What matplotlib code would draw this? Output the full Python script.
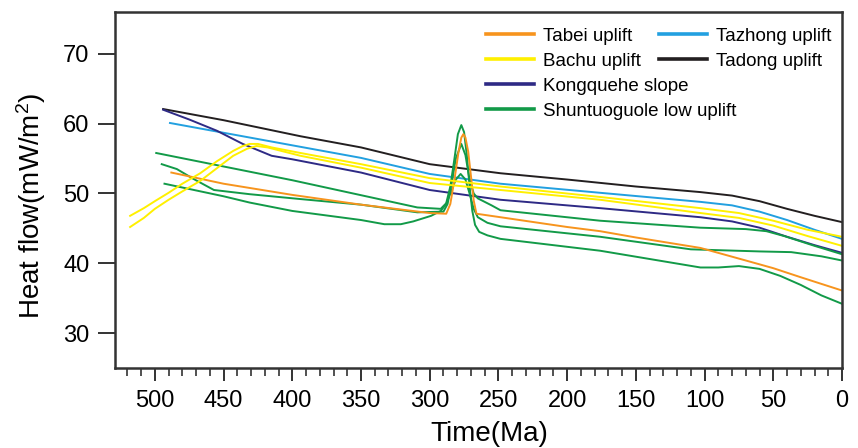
import matplotlib
matplotlib.use("Agg")
import matplotlib.pyplot as plt
from matplotlib.lines import Line2D
from matplotlib.ticker import MultipleLocator

plt.rcParams['font.family'] = ['Liberation Sans', 'DejaVu Sans']
plt.rcParams['mathtext.fontset'] = 'custom'
plt.rcParams['mathtext.rm'] = 'Liberation Sans'
plt.rcParams['mathtext.default'] = 'regular'

# Tabei uplift
tabei_t = [488, 450, 400, 350, 300, 288, 285, 282, 279, 277, 275.5, 274, 272, 270, 268, 266,
           248.5, 200, 176, 150, 103, 70, 50, 30, 0]
tabei_v = [53.0, 51.4, 49.8, 48.4, 47.2, 47.1, 48.5, 52.0, 56.0, 58.0, 58.5, 58.0, 56.0, 52.5, 49.0, 47.1,
           46.6, 45.2, 44.6, 43.7, 42.2, 40.4, 39.3, 38.0, 36.1]

# Tazhong uplift
tazhong_t = [489, 450, 400, 350, 300, 248.5, 176, 103, 80, 60, 40, 20, 0]
tazhong_v = [60.1, 58.7, 56.9, 55.1, 52.8, 51.4, 50.1, 48.8, 48.3, 47.4, 46.2, 44.8, 43.5]

# Tadong uplift
tadong_t = [494, 450, 394, 350, 300, 248.5, 200, 150, 103, 80, 60, 40, 20, 0]
tadong_v = [62.1, 60.5, 58.2, 56.6, 54.2, 52.9, 52.0, 51.0, 50.2, 49.7, 48.9, 47.8, 46.8, 45.9]

# Kongquehe slope
kong_t = [494, 475, 455, 436, 415, 400, 350, 300, 248.5, 176, 103, 80, 60, 40, 20, 0]
kong_v = [62.0, 60.6, 59.0, 57.1, 55.4, 54.9, 53.0, 50.5, 49.1, 47.9, 46.6, 46.0, 45.1, 43.8, 42.6, 41.5]

# Bachu uplift (two wells)
bachu1_t = [518, 508, 500, 490, 480, 467, 455, 443, 436, 431, 425, 415, 394, 350, 300, 248.5, 176, 103, 75, 50, 25, 0]
bachu1_v = [46.8, 47.9, 48.9, 50.1, 51.4, 52.9, 54.6, 56.1, 56.8, 57.1, 57.1, 56.6, 55.8, 54.2, 52.2, 51.0, 49.5, 47.9,
            47.2, 46.1, 44.8, 43.8]
bachu2_t = [518, 508, 500, 490, 480, 467, 455, 443, 433, 426, 418, 394, 350, 300, 248.5, 176, 103, 75, 50, 25, 0]
bachu2_v = [45.2, 46.5, 47.8, 49.1, 50.3, 51.8, 53.6, 55.4, 56.4, 56.8, 56.6, 55.4, 53.7, 51.5, 50.5, 49.1, 47.2,
            46.5, 45.4, 43.9, 42.5]

# Shuntuoguole low uplift (three wells)
shun1_t = [499, 400, 309, 292, 288, 285, 282, 279.5, 277, 275, 273, 271, 269, 267, 264, 258,
           248.5, 176, 103, 90, 75, 60, 45, 30, 15, 0]
shun1_v = [55.8, 51.9, 48.0, 47.8, 48.6, 51.0, 55.0, 58.5, 59.8, 58.8, 55.5, 51.0, 47.5, 45.5, 44.5, 44.0,
           43.5, 41.8, 39.4, 39.4, 39.6, 39.2, 38.2, 36.9, 35.4, 34.2]
shun2_t = [495, 484, 472, 457, 431, 394, 350, 309, 290, 287, 284, 281, 277, 274, 271, 268, 265, 255,
           248.5, 176, 103, 70, 55, 42, 20, 0]
shun2_v = [54.2, 53.5, 52.1, 50.5, 49.9, 49.2, 48.4, 47.3, 47.4, 48.5, 51.5, 55.0, 57.1, 55.5, 52.0, 50.0, 49.3, 48.3,
           47.6, 46.1, 45.1, 44.9, 44.6, 43.9, 42.5, 41.3]
shun3_t = [493, 450, 431, 400, 350, 333, 321, 312, 299, 292, 288, 285, 281, 277.5, 274, 271, 268, 265, 258,
           248.5, 176, 110, 60, 37, 15, 0]
shun3_v = [51.4, 49.6, 48.7, 47.5, 46.2, 45.6, 45.6, 46.0, 46.8, 47.5, 48.5, 50.0, 52.0, 52.8, 52.0, 50.0, 47.8, 46.6, 45.8,
           45.3, 43.8, 42.0, 41.7, 41.6, 41.0, 40.4]

c_orange = '#F7941D'
c_blue = '#22A0E0'
c_yellow = '#FFF000'
c_black = '#231F20'
c_purple = '#2E2A85'
c_green = '#129A48'

fig = plt.figure(figsize=(8.58, 4.48), dpi=100)
ax = fig.add_axes([115 / 858, 1 - 368 / 448, 727 / 858, 356 / 448])

lw = 1.4
ax.plot(tadong_t, tadong_v, color=c_black, lw=lw)
ax.plot(tazhong_t, tazhong_v, color=c_blue, lw=lw)
ax.plot(kong_t, kong_v, color=c_purple, lw=lw)
ax.plot(shun1_t, shun1_v, color=c_green, lw=lw)
ax.plot(shun2_t, shun2_v, color=c_green, lw=lw)
ax.plot(shun3_t, shun3_v, color=c_green, lw=lw)
ax.plot(tabei_t, tabei_v, color=c_orange, lw=lw)
ax.plot(bachu1_t, bachu1_v, color=c_yellow, lw=lw)
ax.plot(bachu2_t, bachu2_v, color=c_yellow, lw=lw)

ax.set_xlim(529, 0)
ax.set_ylim(25, 76)
ax.xaxis.set_major_locator(MultipleLocator(50))
ax.xaxis.set_minor_locator(MultipleLocator(10))
ax.set_yticks([30, 40, 50, 60, 70])

for s in ax.spines.values():
    s.set_linewidth(1.8)
    s.set_color('#333333')

ax.tick_params(axis='y', which='major', direction='out', length=12.5, width=1.4,
               color='#333333', labelsize=17, pad=6)
ax.tick_params(axis='x', which='major', direction='out', length=9.5, width=1.4,
               color='#333333', labelsize=17, pad=6)
ax.tick_params(axis='x', which='minor', direction='out', length=6, width=1.2, color='#333333')

ax.set_xlabel('Time(Ma)', fontsize=20)
ax.xaxis.set_label_coords((489 - 115) / 727, (368 - 421) / 356)
ax.set_ylabel('Heat flow(mW/m$^{2}$)', fontsize=20)
ax.yaxis.set_label_coords((48 - 115) / 727, (368 - 206) / 356)

hw = 2.6
h_left = [Line2D([], [], color=c_orange, lw=hw),
          Line2D([], [], color=c_yellow, lw=hw),
          Line2D([], [], color=c_purple, lw=hw),
          Line2D([], [], color=c_green, lw=hw)]
l_left = ['Tabei uplift', 'Bachu uplift', 'Kongquehe slope', 'Shuntuoguole low uplift']
h_right = [Line2D([], [], color=c_blue, lw=hw),
           Line2D([], [], color=c_black, lw=hw)]
l_right = ['Tazhong uplift', 'Tadong uplift']

leg_kw = dict(frameon=False, fontsize=13.5, handlelength=2.55, handletextpad=0.48,
              labelspacing=0.42, borderpad=0, borderaxespad=0, loc='upper left')
leg1 = ax.legend(h_left, l_left, bbox_to_anchor=((486 - 115) / 727, (368 - 27.5) / 356), **leg_kw)
ax.add_artist(leg1)
ax.legend(h_right, l_right, bbox_to_anchor=((659 - 115) / 727, (368 - 27.5) / 356), **leg_kw)

fig.savefig('out.png', dpi=100)
